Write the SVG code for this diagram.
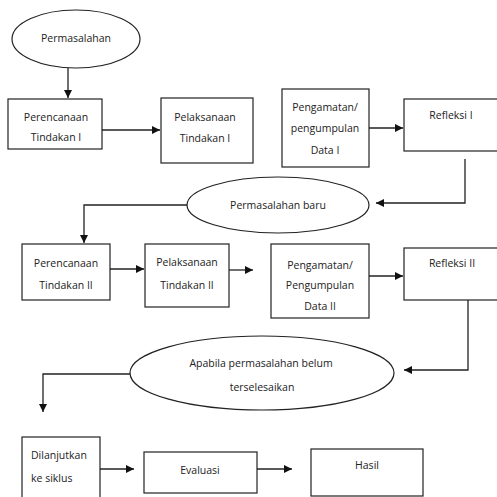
<svg xmlns="http://www.w3.org/2000/svg" width="497" height="497" viewBox="0 0 497 497">
<defs>
<style>
.n{fill:#fff;stroke:#222;stroke-width:1.2}
.t{font-family:"Open Sans","DejaVu Sans",sans-serif;font-size:10.5px;fill:#222;text-anchor:middle}
.l{text-anchor:start}
.c{fill:none;stroke:#222;stroke-width:1.3}
</style>
<marker id="ah" markerUnits="userSpaceOnUse" markerWidth="8" markerHeight="8" refX="8" refY="4" orient="auto">
<path d="M0,0 L8,4 L0,8 z" fill="#111"/>
</marker>
</defs>
<rect width="497" height="497" fill="#fff"/>
<g id="connectors">
<path class="c" d="M68,68 V98" marker-end="url(#ah)"/>
<path class="c" d="M102,130 H160" marker-end="url(#ah)"/>
<path class="c" d="M369,128 H403" marker-end="url(#ah)"/>
<path class="c" d="M465,159 V203 H376" marker-end="url(#ah)"/>
<path class="c" d="M187,205 H84 V243" marker-end="url(#ah)"/>
<path class="c" d="M110,269 H144" marker-end="url(#ah)"/>
<path class="c" d="M229,270 H253" marker-end="url(#ah)"/>
<path class="c" d="M369,276 H403" marker-end="url(#ah)"/>
<path class="c" d="M468,300 V370 H404" marker-end="url(#ah)"/>
<path class="c" d="M130,374 H43 V412" marker-end="url(#ah)"/>
<path class="c" d="M100,469 H134" marker-end="url(#ah)"/>
<path class="c" d="M257,469 H292" marker-end="url(#ah)"/>
</g>
<g id="permasalahan">
<ellipse class="n" cx="76" cy="39" rx="64" ry="29"/>
<text class="t" x="76" y="42">Permasalahan</text>
</g>
<g id="perencanaan1">
<rect class="n" x="8" y="99" width="94" height="50"/>
<text class="t" x="56" y="121">Perencanaan</text>
<text class="t" x="56" y="141">Tindakan I</text>
</g>
<g id="pelaksanaan1">
<rect class="n" x="161" y="98" width="92" height="65"/>
<text class="t" x="205" y="121">Pelaksanaan</text>
<text class="t" x="205" y="142">Tindakan I</text>
</g>
<g id="pengamatan1">
<rect class="n" x="282" y="89" width="87" height="78"/>
<text class="t" x="325" y="111">Pengamatan/</text>
<text class="t" x="325" y="132">pengumpulan</text>
<text class="t" x="325" y="154">Data I</text>
</g>
<g id="refleksi1">
<rect class="n" x="404" y="99" width="100" height="52"/>
<text class="t" x="451" y="119">Refleksi I</text>
</g>
<g id="permasalahan-baru">
<ellipse class="n" cx="278" cy="205" rx="91" ry="28"/>
<text class="t" x="278" y="209">Permasalahan baru</text>
</g>
<g id="perencanaan2">
<rect class="n" x="22" y="244" width="88" height="56"/>
<text class="t" x="66" y="267">Perencanaan</text>
<text class="t" x="66" y="289">Tindakan II</text>
</g>
<g id="pelaksanaan2">
<rect class="n" x="145" y="244" width="84" height="63"/>
<text class="t" x="187" y="266">Pelaksanaan</text>
<text class="t" x="187" y="289">Tindakan II</text>
</g>
<g id="pengamatan2">
<rect class="n" x="271" y="244" width="98" height="74"/>
<text class="t" x="320" y="269">Pengamatan/</text>
<text class="t" x="320" y="289">Pengumpulan</text>
<text class="t" x="320" y="310">Data II</text>
</g>
<g id="refleksi2">
<rect class="n" x="404" y="248" width="100" height="52"/>
<text class="t" x="452" y="267">Refleksi II</text>
</g>
<g id="apabila">
<ellipse class="n" cx="262" cy="373" rx="132" ry="37"/>
<text class="t" x="261" y="367">Apabila permasalahan belum</text>
<text class="t" x="262" y="391">terselesaikan</text>
</g>
<g id="dilanjutkan">
<rect class="n" x="22" y="437" width="78" height="70"/>
<text class="t l" x="31" y="459">Dilanjutkan</text>
<text class="t l" x="31" y="482">ke siklus</text>
</g>
<g id="evaluasi">
<rect class="n" x="144" y="452" width="113" height="41"/>
<text class="t" x="200" y="474">Evaluasi</text>
</g>
<g id="hasil">
<rect class="n" x="311" y="449" width="112" height="47"/>
<text class="t" x="367" y="469">Hasil</text>
</g>
</svg>
